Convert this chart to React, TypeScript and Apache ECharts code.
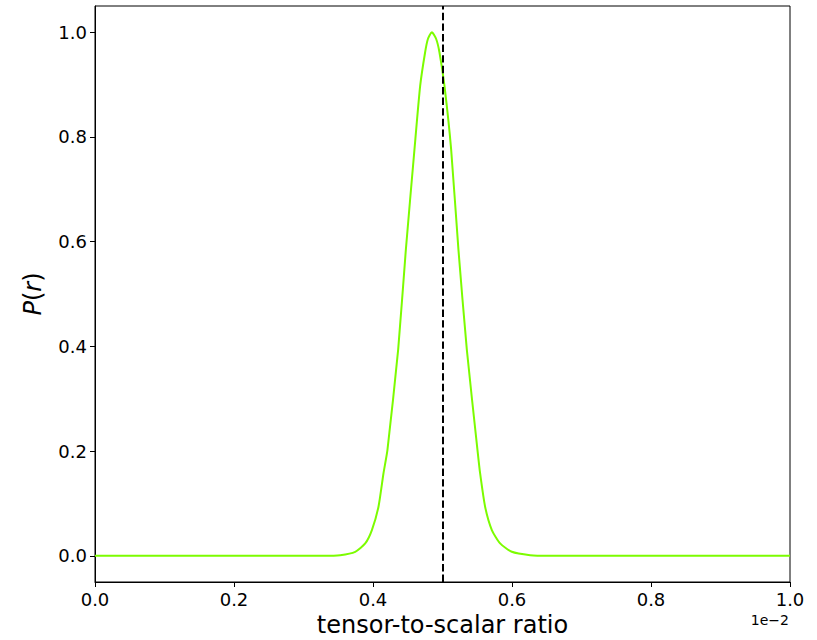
import React, { useEffect, useRef } from "react";
import * as echarts from "echarts";

const rValues = [0.0, 0.15, 0.3, 0.33, 0.3528, 0.3744, 0.3888, 0.3984, 0.4079, 0.4151, 0.4208, 0.4362, 0.4473, 0.4597, 0.4679, 0.475, 0.479, 0.4847, 0.4909, 0.4956, 0.5028, 0.5124, 0.5229, 0.535, 0.5503, 0.5541, 0.5613, 0.571, 0.5829, 0.5997, 0.6261, 0.65, 0.7, 0.85, 1.0];
const pValues = [0, 0, 0, 0, 0.0013, 0.0077, 0.0237, 0.0492, 0.0938, 0.1577, 0.2023, 0.3938, 0.5852, 0.7766, 0.8978, 0.9617, 0.987, 1.0, 0.987, 0.9617, 0.8978, 0.7766, 0.5852, 0.3938, 0.2023, 0.1577, 0.0938, 0.0492, 0.0237, 0.0077, 0.0013, 0, 0, 0, 0];
const xTicks = [0.0, 0.2, 0.4, 0.6, 0.8, 1.0];
const yTicks = [0.0, 0.2, 0.4, 0.6, 0.8, 1.0];
const refLine = 0.5;

export default function App() {
  const ref = useRef<HTMLDivElement>(null);
  useEffect(() => {
    if (!ref.current) return;
    const chart = echarts.init(ref.current, undefined, { renderer: "svg" });
    const font = "DejaVu Sans";
    chart.setOption({
      animation: false,
      textStyle: { fontFamily: font },
      grid: {
        left: 95, right: 27, top: 6, bottom: 58,
        outerBoundsMode: "none",
        containLabel: false,
        show: true, borderColor: "#000", borderWidth: 1, backgroundColor: "#fff",
      },
      xAxis: {
        type: "value", min: 0, max: 1, interval: 0.2,
        axisLine: { onZero: false, lineStyle: { color: "#000", width: 1 } },
        axisTick: { show: true, length: 5, inside: false, lineStyle: { color: "#000" }, customValues: xTicks },
        axisLabel: { color: "#000", fontSize: 18, fontFamily: font, margin: 8, customValues: xTicks, formatter: (v: number) => v.toFixed(1) },
        splitLine: { show: false },
        name: "tensor-to-scalar ratio",
        nameLocation: "middle",
        nameGap: 31,
        nameTextStyle: { color: "#000", fontSize: 24, fontFamily: font },
      },
      yAxis: {
        type: "value", min: -0.05, max: 1.05,
        axisLine: { show: true, onZero: false, lineStyle: { color: "#000", width: 1 } },
        axisTick: { show: true, length: 5, inside: false, lineStyle: { color: "#000" }, customValues: yTicks },
        axisLabel: { color: "#000", fontSize: 18, fontFamily: font, margin: 8, customValues: yTicks, formatter: (v: number) => v.toFixed(1) },
        splitLine: { show: false },
        name: "{i|P}({i|r})",
        nameLocation: "middle",
        nameGap: 50,
        nameRotate: 90,
        nameTextStyle: {
          color: "#000", fontSize: 24, fontFamily: font,
          rich: { i: { fontStyle: "italic", fontSize: 24, fontFamily: font, color: "#000" } },
        },
      },
      series: [
        {
          type: "line",
          data: rValues.map((r, i) => [r, pValues[i]]),
          showSymbol: false,
          smooth: 0.2,
          lineStyle: { color: "#7CFC00", width: 2 },
          itemStyle: { color: "#7CFC00" },
          z: 2,
          markLine: {
            silent: true,
            symbol: "none",
            label: { show: false },
            lineStyle: { color: "#000", width: 2, type: [7.4, 3.2] },
            data: [{ xAxis: refLine }],
            z: 3,
          },
        },
      ],
      graphic: [
        {
          type: "text",
          right: 28,
          top: 613,
          style: { text: "1e\u22122", fontSize: 14, fontFamily: font, fill: "#000", textAlign: "right" },
        },
      ],
    });
    return () => chart.dispose();
  }, []);
  return <div ref={ref} style={{ width: 817, height: 640, position: "absolute", left: 0, top: 0 }} />;
}
